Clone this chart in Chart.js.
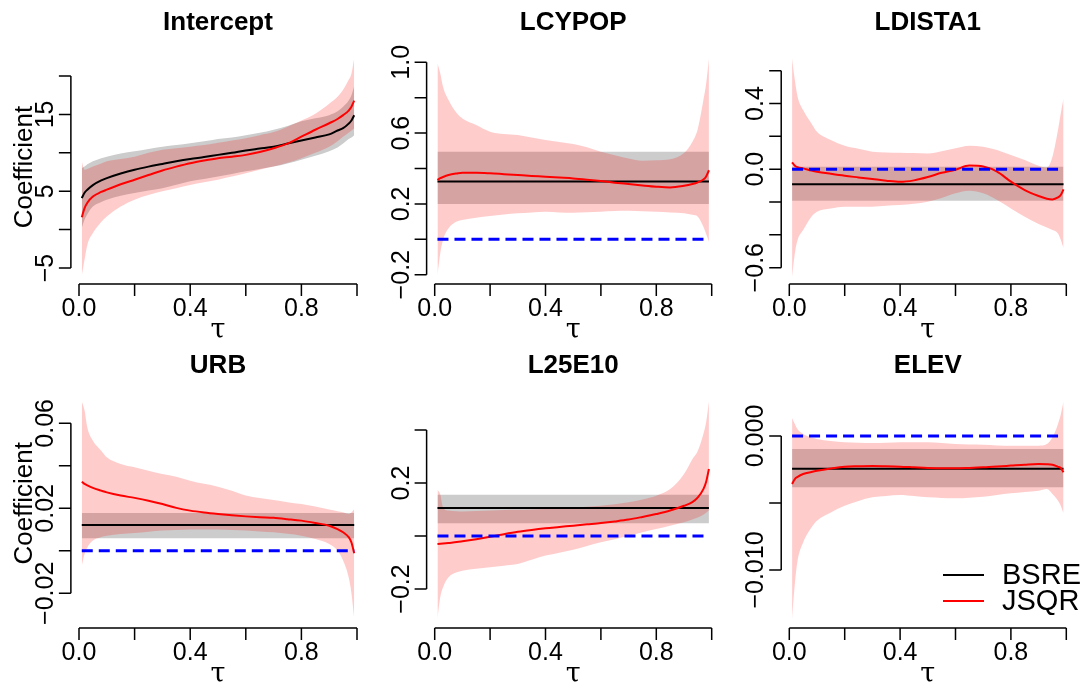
<!DOCTYPE html>
<html>
<head>
<meta charset="utf-8">
<script src="https://cdn.jsdelivr.net/npm/chart.js@4.4.1/dist/chart.umd.min.js"></script>
<style>
  html, body { margin: 0; padding: 0; background: #fff; }
  #wrap { position: relative; width: 1091px; height: 688px; }
  #wrap canvas { position: absolute; left: 0; top: 0; }
</style>
</head>
<body>
<div id="wrap"></div>
<script>
'use strict';

// quantile grid (tau) shared by the varying series
const TAU = [0.01, 0.02, 0.03, 0.05, 0.08, 0.10, 0.15, 0.20, 0.25, 0.30, 0.35, 0.40, 0.45, 0.50,
             0.55, 0.60, 0.65, 0.70, 0.75, 0.80, 0.85, 0.90, 0.93, 0.95, 0.97, 0.98, 0.99];
// constant series only need the two ends
const TAU_ENDS = [0.01, 0.99];

const X_TICKS = [0, 0.2, 0.4, 0.6, 0.8, 1.0];
const X_LABELS = ['0.0', '', '0.4', '', '0.8', ''];

// --- Intercept
const INTERCEPT_BSRE = [4.1, 4.8, 5.2, 5.8, 6.4, 6.7, 7.3, 7.8, 8.2, 8.55, 8.9, 9.2, 9.45, 9.73,
                        10.0, 10.3, 10.55, 10.8, 11.2, 11.6, 12.0, 12.4, 12.9, 13.2, 13.8, 14.2, 14.9];
const INTERCEPT_BSRE_HI = [8.0, 8.2, 8.5, 8.9, 9.3, 9.5, 9.9, 10.2, 10.5, 10.8, 11.0, 11.25, 11.5, 11.8,
                           12.0, 12.3, 12.6, 13.0, 13.5, 14.1, 14.5, 14.9, 15.4, 16.0, 16.8, 17.5, 18.7];
const INTERCEPT_BSRE_LO = [0.2, 1.3, 2.0, 3.0, 3.6, 3.9, 4.4, 4.75, 5.1, 5.4, 5.85, 6.3, 6.6, 6.9,
                           7.25, 7.6, 7.9, 8.2, 8.6, 9.1, 9.6, 10.2, 10.7, 11.2, 11.8, 12.0, 12.3];
const INTERCEPT_JSQR = [1.6, 2.8, 3.5, 4.3, 4.9, 5.2, 5.9, 6.5, 7.1, 7.7, 8.2, 8.65, 9.0, 9.3,
                        9.5, 9.73, 10.1, 10.6, 11.2, 12.1, 13.0, 13.85, 14.4, 14.9, 15.5, 16.0, 16.8];
const INTERCEPT_JSQR_HI = [8.9, 7.8, 7.9, 8.2, 8.6, 8.9, 9.2, 9.5, 10.0, 10.4, 10.6, 10.8, 11.0, 11.3,
                           11.6, 11.9, 12.3, 12.7, 13.4, 14.2, 15.1, 16.4, 17.3, 18.2, 19.5, 20.3, 22.3];
const INTERCEPT_JSQR_LO = [-6.0, -3.9, -2.0, -0.45, 1.0, 1.7, 3.0, 3.9, 4.5, 5.0, 5.4, 5.8, 6.15, 6.5,
                           6.9, 7.35, 7.8, 8.2, 8.7, 9.3, 10.0, 10.8, 11.5, 12.1, 12.6, 12.9, 13.2];
const INTERCEPT_YTICKS = [-5, 0, 5, 10, 15, 20];
const INTERCEPT_YLABELS = ['\u22125', '', '5', '', '15', ''];

// --- LCYPOP
const LCYPOP_BSRE = [0.326, 0.326];
const LCYPOP_BSRE_HI = [0.495, 0.495];
const LCYPOP_BSRE_LO = [0.2, 0.2];
const LCYPOP_JSQR = [0.335, 0.345, 0.352, 0.363, 0.372, 0.376, 0.376, 0.373, 0.368, 0.363, 0.358, 0.354, 0.349, 0.344,
                     0.337, 0.329, 0.320, 0.312, 0.304, 0.297, 0.293, 0.302, 0.312, 0.322, 0.338, 0.355, 0.39];
const LCYPOP_JSQR_HI = [0.994, 0.938, 0.862, 0.787, 0.712, 0.683, 0.646, 0.608, 0.595, 0.589, 0.575, 0.561, 0.550, 0.538,
                        0.52, 0.495, 0.475, 0.457, 0.444, 0.446, 0.452, 0.488, 0.55, 0.625, 0.787, 0.88, 1.02];
const LCYPOP_JSQR_LO = [-0.202, -0.08, -0.004, 0.062, 0.10, 0.109, 0.122, 0.131, 0.14, 0.147, 0.152, 0.156, 0.152, 0.150,
                        0.153, 0.156, 0.16, 0.162, 0.158, 0.156, 0.152, 0.147, 0.138, 0.128, 0.071, 0.03, -0.014];
const LCYPOP_YTICKS = [-0.2, 0.0, 0.2, 0.4, 0.6, 0.8, 1.0];
const LCYPOP_YLABELS = ['\u22120.2', '', '0.2', '', '0.6', '', '1.0'];

// --- LDISTA1
const LDISTA1_BSRE = [-0.092, -0.092];
const LDISTA1_BSRE_HI = [0.015, 0.015];
const LDISTA1_BSRE_LO = [-0.192, -0.192];
const LDISTA1_JSQR = [0.042, 0.021, 0.012, 0.005, -0.008, -0.015, -0.028, -0.04, -0.05, -0.06, -0.07, -0.077, -0.068, -0.048,
                      -0.022, -0.003, 0.022, 0.016, -0.015, -0.076, -0.127, -0.163, -0.18, -0.184, -0.172, -0.157, -0.123];
const LDISTA1_JSQR_HI = [0.675, 0.543, 0.442, 0.36, 0.279, 0.228, 0.178, 0.143, 0.125, 0.107, 0.102, 0.10, 0.098, 0.096,
                         0.11, 0.127, 0.143, 0.137, 0.117, 0.086, 0.056, 0.021, 0.010, 0.076, 0.239, 0.34, 0.431];
const LDISTA1_JSQR_LO = [-0.655, -0.513, -0.431, -0.37, -0.289, -0.259, -0.239, -0.228, -0.228, -0.228, -0.222, -0.218, -0.21, -0.198,
                         -0.175, -0.147, -0.131, -0.147, -0.188, -0.239, -0.289, -0.334, -0.355, -0.37, -0.391, -0.43, -0.482];
const LDISTA1_YTICKS = [-0.6, -0.4, -0.2, 0.0, 0.2, 0.4, 0.6];
const LDISTA1_YLABELS = ['\u22120.6', '', '', '0.0', '', '0.4', ''];

// --- URB
const URB_BSRE = [0.0122, 0.0122];
const URB_BSRE_HI = [0.0178, 0.0178];
const URB_BSRE_LO = [0.0059, 0.0059];
const URB_JSQR = [0.0325, 0.0315, 0.0308, 0.0296, 0.0283, 0.0275, 0.026, 0.0249, 0.0236, 0.022, 0.0202, 0.0189, 0.018, 0.0173,
                  0.0167, 0.0162, 0.0158, 0.0155, 0.0149, 0.0142, 0.0131, 0.0118, 0.0102, 0.0087, 0.0064, 0.004, -0.0012];
const URB_JSQR_HI = [0.0704, 0.066, 0.058, 0.0518, 0.0471, 0.044, 0.0409, 0.0393, 0.0377, 0.0362, 0.0349, 0.033, 0.0315, 0.0302,
                     0.0283, 0.026, 0.0248, 0.0239, 0.0229, 0.022, 0.0208, 0.0194, 0.0186, 0.0181, 0.0173, 0.018, 0.0197];
const URB_JSQR_LO = [-0.007, -0.0015, 0.0016, 0.0048, 0.0065, 0.0071, 0.0079, 0.0084, 0.009, 0.0095, 0.0098, 0.010, 0.010, 0.010,
                     0.0098, 0.0095, 0.0091, 0.0087, 0.008, 0.0071, 0.0056, 0.0032, 0.0001, -0.0046, -0.0125, -0.02, -0.032];
const URB_YTICKS = [-0.02, 0.0, 0.02, 0.04, 0.06];
const URB_YLABELS = ['\u22120.02', '', '0.02', '', '0.06'];

// --- L25E10
const L25E10_BSRE = [0.106, 0.106];
const L25E10_BSRE_HI = [0.156, 0.156];
const L25E10_BSRE_LO = [0.048, 0.048];
const L25E10_JSQR = [-0.03, -0.029, -0.028, -0.026, -0.023, -0.02, -0.012, -0.003, 0.007, 0.016, 0.023, 0.029, 0.034, 0.039,
                     0.044, 0.049, 0.055, 0.062, 0.072, 0.083, 0.096, 0.114, 0.128, 0.146, 0.177, 0.205, 0.253];
const L25E10_JSQR_HI = [0.174, 0.158, 0.108, 0.096, 0.093, 0.092, 0.094, 0.096, 0.098, 0.099, 0.10, 0.102, 0.104, 0.106,
                        0.110, 0.114, 0.12, 0.127, 0.138, 0.152, 0.177, 0.234, 0.29, 0.322, 0.385, 0.43, 0.508];
const L25E10_JSQR_LO = [-0.313, -0.231, -0.194, -0.156, -0.137, -0.131, -0.124, -0.118, -0.112, -0.106, -0.09, -0.074, -0.063, -0.052,
                        -0.038, -0.024, -0.012, 0.001, 0.014, 0.026, 0.039, 0.052, 0.062, 0.07, 0.08, 0.088, 0.096];
const L25E10_YTICKS = [-0.2, 0.0, 0.2, 0.4];
const L25E10_YLABELS = ['\u22120.2', '', '0.2', ''];

// --- ELEV
const ELEV_BSRE = [-0.00244, -0.00244];
const ELEV_BSRE_HI = [-0.00097, -0.00097];
const ELEV_BSRE_LO = [-0.00383, -0.00383];
const ELEV_JSQR = [-0.00358, -0.00321, -0.00305, -0.00284, -0.00268, -0.00259, -0.00242, -0.00229, -0.00226, -0.00224, -0.00226, -0.00229, -0.00234, -0.00239,
                   -0.0024, -0.00241, -0.00238, -0.00234, -0.00228, -0.00221, -0.00214, -0.00209, -0.0021, -0.00214, -0.0023, -0.00239, -0.00271];
const ELEV_JSQR_HI = [0.00134, 0.0009, 0.0005, 0.00015, -0.00012, -0.00022, -0.00038, -0.00047, -0.0005, -0.00052, -0.0005, -0.00047, -0.00047, -0.00047,
                      -0.00053, -0.0006, -0.00063, -0.00065, -0.0007, -0.00072, -0.00072, -0.00072, -0.0006, -0.0001, 0.0009, 0.0016, 0.00259];
const ELEV_JSQR_LO = [-0.01366, -0.01104, -0.0093, -0.00794, -0.00682, -0.00632, -0.0057, -0.0052, -0.00485, -0.00458, -0.00447, -0.0044, -0.00448, -0.00458,
                      -0.00462, -0.00465, -0.0046, -0.00453, -0.0044, -0.00428, -0.00418, -0.00408, -0.00396, -0.00433, -0.00483, -0.0052, -0.00577];
const ELEV_YTICKS = [-0.010, -0.005, 0.000];
const ELEV_YLABELS = ['\u22120.010', '', '0.000'];

const LEGEND_LABELS = ['BSRE', 'JSQR'];

const FONT = '"Liberation Sans", Arial, sans-serif';
const GREY = '#cccccc';
const PINK = 'rgba(255, 0, 0, 0.2)';

// where each panel sits on the page (pixels of tau=0/1 and of the first/last y tick)
const PANELS = [
    { title: 'Intercept', ylab: true, zero: false, x0: 79, x1: 357, yLo: 268, yHi: 76, axisY: 284, titleY: 29.5,
      ticks: INTERCEPT_YTICKS, labels: INTERCEPT_YLABELS,
      bsre: [TAU, INTERCEPT_BSRE], bsreHi: [TAU, INTERCEPT_BSRE_HI], bsreLo: [TAU, INTERCEPT_BSRE_LO],
      jsqr: INTERCEPT_JSQR, jsqrHi: INTERCEPT_JSQR_HI, jsqrLo: INTERCEPT_JSQR_LO },
    { title: 'LCYPOP', ylab: false, zero: true, x0: 434.7, x1: 711.7, yLo: 274.7, yHi: 62.3, axisY: 284, titleY: 29.5,
      ticks: LCYPOP_YTICKS, labels: LCYPOP_YLABELS,
      bsre: [TAU_ENDS, LCYPOP_BSRE], bsreHi: [TAU_ENDS, LCYPOP_BSRE_HI], bsreLo: [TAU_ENDS, LCYPOP_BSRE_LO],
      jsqr: LCYPOP_JSQR, jsqrHi: LCYPOP_JSQR_HI, jsqrLo: LCYPOP_JSQR_LO },
    { title: 'LDISTA1', ylab: false, zero: true, x0: 789.3, x1: 1066.3, yLo: 267.7, yHi: 70.7, axisY: 284, titleY: 29.5,
      ticks: LDISTA1_YTICKS, labels: LDISTA1_YLABELS,
      bsre: [TAU_ENDS, LDISTA1_BSRE], bsreHi: [TAU_ENDS, LDISTA1_BSRE_HI], bsreLo: [TAU_ENDS, LDISTA1_BSRE_LO],
      jsqr: LDISTA1_JSQR, jsqrHi: LDISTA1_JSQR_HI, jsqrLo: LDISTA1_JSQR_LO },
    { title: 'URB', ylab: true, zero: true, x0: 79, x1: 357, yLo: 593.3, yHi: 423.3, axisY: 628, titleY: 373,
      ticks: URB_YTICKS, labels: URB_YLABELS,
      bsre: [TAU_ENDS, URB_BSRE], bsreHi: [TAU_ENDS, URB_BSRE_HI], bsreLo: [TAU_ENDS, URB_BSRE_LO],
      jsqr: URB_JSQR, jsqrHi: URB_JSQR_HI, jsqrLo: URB_JSQR_LO },
    { title: 'L25E10', ylab: false, zero: true, x0: 434.7, x1: 711.7, yLo: 589, yHi: 430, axisY: 628, titleY: 373,
      ticks: L25E10_YTICKS, labels: L25E10_YLABELS,
      bsre: [TAU_ENDS, L25E10_BSRE], bsreHi: [TAU_ENDS, L25E10_BSRE_HI], bsreLo: [TAU_ENDS, L25E10_BSRE_LO],
      jsqr: L25E10_JSQR, jsqrHi: L25E10_JSQR_HI, jsqrLo: L25E10_JSQR_LO },
    { title: 'ELEV', ylab: false, zero: true, legend: true, x0: 789.3, x1: 1066.3, yLo: 570, yHi: 436, axisY: 628, titleY: 373,
      ticks: ELEV_YTICKS, labels: ELEV_YLABELS,
      bsre: [TAU_ENDS, ELEV_BSRE], bsreHi: [TAU_ENDS, ELEV_BSRE_HI], bsreLo: [TAU_ENDS, ELEV_BSRE_LO],
      jsqr: ELEV_JSQR, jsqrHi: ELEV_JSQR_HI, jsqrLo: ELEV_JSQR_LO }
];

function pts(xs, ys) {
    return xs.map(function (x, i) { return { x: x, y: ys[i] }; });
}

// R style axes: detached axis lines, rotated y labels
const rAxes = {
    id: 'rAxes',
    afterDraw(chart, args, opts) {
        const p = opts.panel;
        const ctx = chart.ctx;
        const xs = chart.scales.x, ys = chart.scales.y;
        const axisX = xs.getPixelForValue(-0.0292);
        ctx.save();
        ctx.strokeStyle = '#000';
        ctx.fillStyle = '#000';
        ctx.lineWidth = 1.5;

        // y axis
        const yTop = ys.getPixelForValue(p.ticks[p.ticks.length - 1]);
        const yBot = ys.getPixelForValue(p.ticks[0]);
        ctx.beginPath();
        ctx.moveTo(axisX, yTop);
        ctx.lineTo(axisX, yBot);
        p.ticks.forEach(function (v) {
            const py = ys.getPixelForValue(v);
            ctx.moveTo(axisX, py);
            ctx.lineTo(axisX - 12, py);
        });
        ctx.stroke();
        ctx.font = '25px ' + FONT;
        ctx.textAlign = 'center';
        ctx.textBaseline = 'alphabetic';
        p.labels.forEach(function (lab, i) {
            if (!lab) return;
            const py = ys.getPixelForValue(p.ticks[i]);
            ctx.save();
            ctx.translate(axisX - 18, py);
            ctx.rotate(-Math.PI / 2);
            ctx.fillText(lab, 0, 0);
            ctx.restore();
        });

        // x axis
        ctx.beginPath();
        ctx.moveTo(xs.getPixelForValue(0), p.axisY);
        ctx.lineTo(xs.getPixelForValue(1), p.axisY);
        X_TICKS.forEach(function (v) {
            const px = xs.getPixelForValue(v);
            ctx.moveTo(px, p.axisY);
            ctx.lineTo(px, p.axisY + 12);
        });
        ctx.stroke();
        X_TICKS.forEach(function (v, i) {
            if (X_LABELS[i]) ctx.fillText(X_LABELS[i], xs.getPixelForValue(v), p.axisY + 32);
        });
        const midX = (axisX + xs.getPixelForValue(1.0292)) / 2;
        ctx.font = '27px "DejaVu Serif", "Liberation Serif", serif';
        ctx.fillText('\u03c4', midX, p.axisY + 54);

        // title
        ctx.font = 'bold 26px ' + FONT;
        ctx.fillText(p.title, midX, p.titleY);

        // y label
        if (p.ylab) {
            const midY = (yTop + yBot) / 2 - 5;
            ctx.font = '26px ' + FONT;
            ctx.save();
            ctx.translate(32, midY);
            ctx.rotate(-Math.PI / 2);
            ctx.fillText('Coefficient', 0, 0);
            ctx.restore();
        }

        // legend
        if (p.legend) {
            const colors = ['#000000', '#ff0000'];
            ctx.font = '29px ' + FONT;
            ctx.textAlign = 'left';
            ctx.textBaseline = 'middle';
            LEGEND_LABELS.forEach(function (lab, i) {
                const ly = 575 + i * 26;
                ctx.strokeStyle = colors[i];
                ctx.lineWidth = 2;
                ctx.beginPath();
                ctx.moveTo(943, ly);
                ctx.lineTo(984, ly);
                ctx.stroke();
                ctx.fillText(lab, 1002, ly + 1);
            });
        }
        ctx.restore();
    }
};

function makePanel(p) {
    const canvas = document.createElement('canvas');
    canvas.width = 1091;
    canvas.height = 688;
    document.getElementById('wrap').appendChild(canvas);

    // value range of the panel (R style, 4% beyond the data) so the bands are not clipped
    const all = [].concat(p.jsqr, p.jsqrHi, p.jsqrLo, p.bsre[1], p.bsreHi[1], p.bsreLo[1], p.ticks);
    const dMin = Math.min.apply(null, all), dMax = Math.max.apply(null, all);
    const yMin = dMin - 0.04 * (dMax - dMin), yMax = dMax + 0.04 * (dMax - dMin);
    // pixels per unit from the tick positions
    const t0 = p.ticks[0], t1 = p.ticks[p.ticks.length - 1];
    const k = (p.yLo - p.yHi) / (t1 - t0);
    const topPx = p.yHi - (yMax - t1) * k;
    const botPx = p.yLo + (t0 - yMin) * k;

    const band = { borderWidth: 0, borderColor: 'transparent', pointRadius: 0, cubicInterpolationMode: 'monotone', clip: false };
    const line = { borderWidth: 2, pointRadius: 0, cubicInterpolationMode: 'monotone', fill: false, clip: false };

    const datasets = [];
    if (p.zero) {
        datasets.push({ data: pts(TAU_ENDS, [0, 0]), borderColor: '#0000ff', borderWidth: 3,
                        borderDash: [11, 6], borderCapStyle: 'butt', pointRadius: 0, fill: false, clip: false, order: 0 });
    }
    datasets.push(Object.assign({ data: pts(TAU, p.jsqr), borderColor: '#ff0000', order: 1 }, line));
    datasets.push(Object.assign({ data: pts(p.bsre[0], p.bsre[1]), borderColor: '#000000', order: 2 }, line));
    datasets.push(Object.assign({ data: pts(TAU, p.jsqrHi), fill: '+1', backgroundColor: PINK, order: 3 }, band));
    datasets.push(Object.assign({ data: pts(TAU, p.jsqrLo), fill: false, order: 3 }, band));
    datasets.push(Object.assign({ data: pts(p.bsreHi[0], p.bsreHi[1]), fill: '+1', backgroundColor: GREY, order: 4 }, band));
    datasets.push(Object.assign({ data: pts(p.bsreLo[0], p.bsreLo[1]), fill: false, order: 4 }, band));

    new Chart(canvas, {
        type: 'line',
        data: { datasets: datasets },
        options: {
            responsive: false,
            animation: false,
            events: [],
            layout: { padding: { left: p.x0, right: 1091 - p.x1, top: topPx, bottom: 688 - botPx } },
            scales: {
                x: { type: 'linear', display: false, min: 0, max: 1 },
                y: { type: 'linear', display: false, min: yMin, max: yMax }
            },
            plugins: {
                legend: { display: false },
                tooltip: { enabled: false },
                rAxes: { panel: p }
            }
        },
        plugins: [rAxes]
    });
}

PANELS.forEach(makePanel);
</script>
</body>
</html>
